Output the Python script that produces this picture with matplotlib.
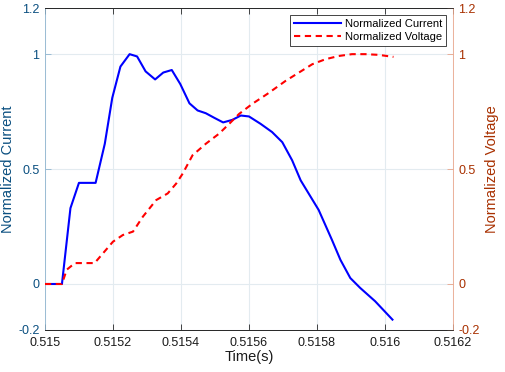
import matplotlib
matplotlib.use("Agg")
import matplotlib.pyplot as plt

plt.rcParams['font.family'] = ['Liberation Sans', 'DejaVu Sans']

t_current = [0.515, 0.51505, 0.515075, 0.5151, 0.515149, 0.515176, 0.515198, 0.515222,
             0.515249, 0.515271, 0.515296, 0.515324, 0.515348, 0.515373, 0.515398,
             0.515425, 0.515449, 0.515473, 0.515498, 0.515524, 0.515551, 0.515576,
             0.5156, 0.515634, 0.515668, 0.515698, 0.515727, 0.515752, 0.515805,
             0.515844, 0.515869, 0.515898, 0.515927, 0.515971, 0.516022]
current = [0, 0, 0.33, 0.44, 0.44, 0.61, 0.81, 0.946,
           1.0, 0.99, 0.925, 0.89, 0.92, 0.931, 0.87,
           0.786, 0.755, 0.743, 0.723, 0.703, 0.714, 0.733,
           0.729, 0.697, 0.661, 0.617, 0.538, 0.451, 0.322,
           0.192, 0.105, 0.026, -0.017, -0.075, -0.155]

t_voltage = [0.515, 0.51505, 0.515064, 0.515088, 0.515146, 0.515171, 0.5152, 0.515229,
             0.515259, 0.515288, 0.515327, 0.515361, 0.515386, 0.515405, 0.515434,
             0.515473, 0.515512, 0.515542, 0.515571, 0.51561, 0.515654, 0.515708,
             0.515747, 0.515786, 0.515825, 0.515864, 0.515903, 0.515942, 0.515981,
             0.516025]
voltage = [0, 0, 0.062, 0.091, 0.091, 0.134, 0.184, 0.213,
           0.228, 0.293, 0.365, 0.394, 0.437, 0.48, 0.56,
           0.61, 0.654, 0.697, 0.74, 0.784, 0.827, 0.884,
           0.92, 0.956, 0.978, 0.992, 1.0, 1.0, 0.997,
           0.988]

x_ticks = [0.515, 0.5152, 0.5154, 0.5156, 0.5158, 0.516, 0.5162]
x_tick_labels = ['0.515', '0.5152', '0.5154', '0.5156', '0.5158', '0.516', '0.5162']
y_ticks = [-0.2, 0, 0.5, 1, 1.2]
y_tick_labels = ['-0.2', '0', '0.5', '1', '1.2']

left_text = '#0a4f80'
left_spine = '#8fb5cf'
right_text = '#a83000'
right_spine = '#e8a58a'
grid_col = '#e3ebf0'

fig = plt.figure(figsize=(5.05, 3.72), dpi=100)
ax = fig.add_axes([0.089, 0.113, 0.808, 0.865])
ax2 = ax.twinx()

l1, = ax.plot(t_current, current, color='#0000ff', lw=1.5, label='Normalized Current')
l2, = ax2.plot(t_voltage, voltage, color='#ff0000', lw=1.5, ls=(0, (3.0, 2.2)),
               label='Normalized Voltage')

for a in (ax, ax2):
    a.set_xlim(0.515, 0.5162)
    a.set_ylim(-0.2, 1.2)
    a.set_yticks(y_ticks)
    a.set_yticklabels(y_tick_labels)

ax.set_xticks(x_ticks)
ax.set_xticklabels(x_tick_labels)
ax.grid(True, color=grid_col, lw=0.8)
ax.set_axisbelow(True)

ax.tick_params(axis='x', direction='in', length=4, labelsize=9, colors='#262626',
               top=True, labelcolor='#1a1a1a', pad=5, width=0.6)
ax.tick_params(axis='y', direction='in', length=4, labelsize=9, colors=left_spine,
               labelcolor=left_text, width=0.6, pad=4)
ax2.tick_params(axis='y', direction='in', length=4, labelsize=9, colors=right_spine,
                labelcolor=right_text, width=0.6, pad=4)

ax.spines['left'].set_color(left_spine)
ax.spines['right'].set_visible(False)
ax2.spines['left'].set_visible(False)
ax2.spines['right'].set_color(right_spine)
for a in (ax, ax2):
    a.spines['top'].set_color('#262626')
    a.spines['bottom'].set_color('#262626')
    for s in a.spines.values():
        s.set_linewidth(0.6)

ax.set_xlabel('Time(s)', fontsize=10.5, color='#1a1a1a', labelpad=1)
ax.set_ylabel('Normalized Current', fontsize=10.5, color=left_text, labelpad=2)
ax2.set_ylabel('Normalized Voltage', fontsize=10.5, color=right_text, labelpad=4)

leg = ax2.legend(handles=[l1, l2], loc='upper right', fontsize=8, frameon=True,
                 fancybox=False, edgecolor='#262626', framealpha=1,
                 borderaxespad=0.6, handlelength=4.2, borderpad=0.35,
                 labelspacing=0.3, handletextpad=0.4)
leg.get_frame().set_linewidth(0.6)

fig.savefig('out.png', dpi=100)
